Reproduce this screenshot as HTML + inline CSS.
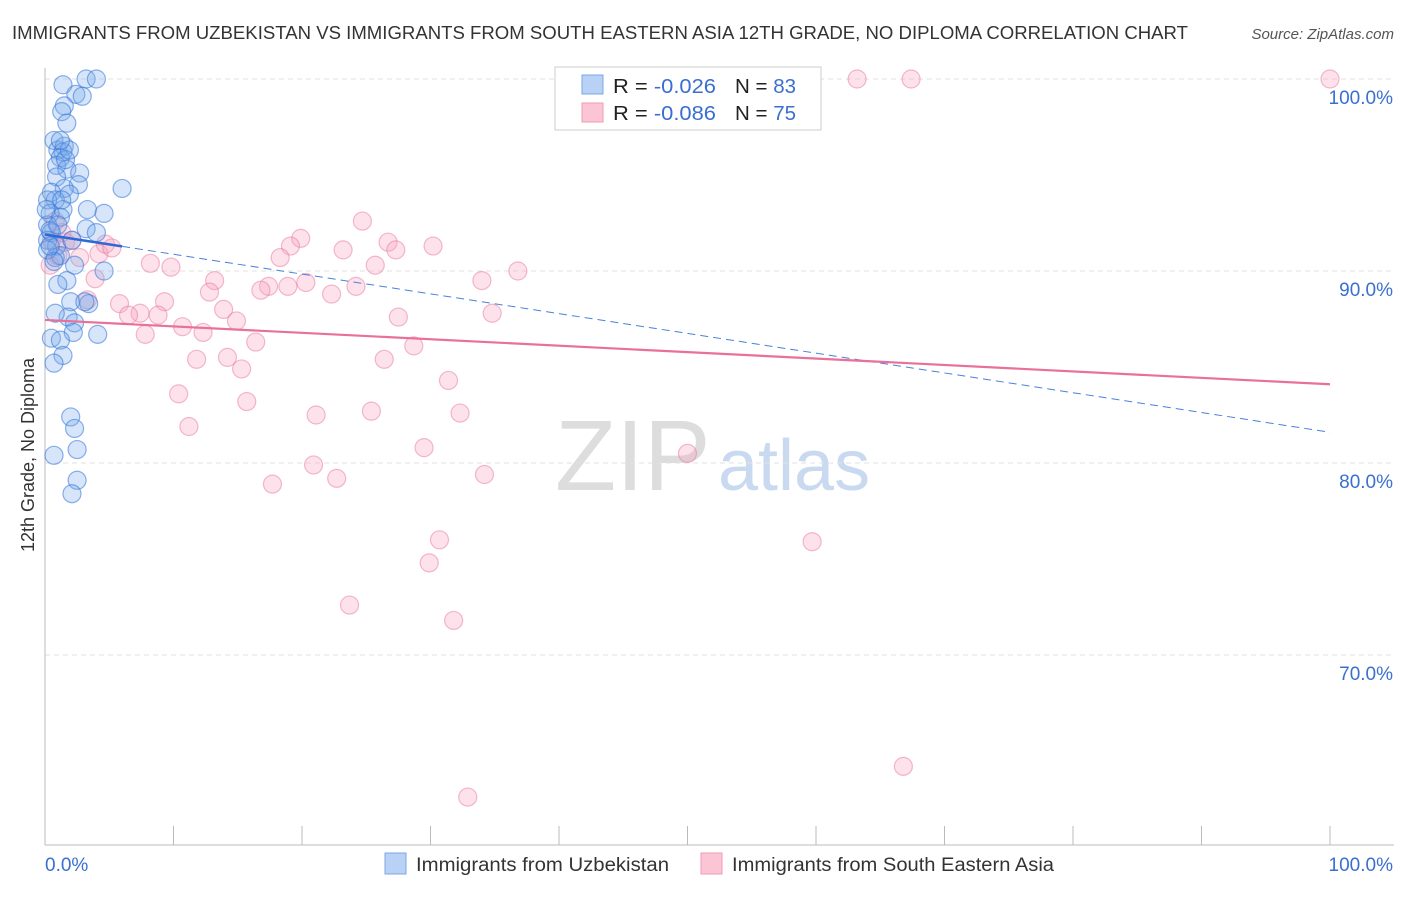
<!DOCTYPE html>
<html><head><meta charset="utf-8"><style>
body{margin:0;background:#fff;font-family:"Liberation Sans",sans-serif;}
svg text{font-family:"Liberation Sans",sans-serif;}
</style></head><body>
<svg id="chart" width="1406" height="892" xmlns="http://www.w3.org/2000/svg">
<text x="12" y="39" font-size="18" fill="#333" textLength="1176" lengthAdjust="spacingAndGlyphs">IMMIGRANTS FROM UZBEKISTAN VS IMMIGRANTS FROM SOUTH EASTERN ASIA 12TH GRADE, NO DIPLOMA CORRELATION CHART</text>
<text x="1394" y="39" font-size="15" fill="#555" font-style="italic" text-anchor="end">Source: ZipAtlas.com</text>
<text transform="translate(34,455) rotate(-90)" font-size="18" fill="#333" text-anchor="middle">12th Grade, No Diploma</text>
<g><text x="555" y="490" font-size="100" fill="#ddd" font-family="Liberation Serif">ZIP</text><text x="718" y="490" font-size="72" fill="#c9daf0">atlas</text></g>
<g id="grid"></g><g id="axes"></g><g id="pts"></g><g id="lines"></g>
<g>
<rect x="555" y="67" width="266" height="63" fill="#fff" stroke="#ccc"/>
<rect x="582" y="75" width="21" height="19" fill="#b8d1f5" stroke="#7aa7e6"/>
<rect x="582" y="103" width="21" height="19" fill="#fcc5d5" stroke="#f09ab4"/>
<text x="613" y="93" font-size="20" fill="#222" textLength="103" lengthAdjust="spacingAndGlyphs">R = <tspan fill="#3a6fd0">-0.026</tspan></text>
<text x="735" y="93" font-size="20" fill="#222" textLength="61" lengthAdjust="spacingAndGlyphs">N = <tspan fill="#3a6fd0">83</tspan></text>
<text x="613" y="120" font-size="20" fill="#222" textLength="103" lengthAdjust="spacingAndGlyphs">R = <tspan fill="#3a6fd0">-0.086</tspan></text>
<text x="735" y="120" font-size="20" fill="#222" textLength="61" lengthAdjust="spacingAndGlyphs">N = <tspan fill="#3a6fd0">75</tspan></text>
</g>
<g>
<rect x="385" y="853" width="21" height="21" fill="#b8d1f5" stroke="#7aa7e6"/>
<text x="416" y="871" font-size="19" fill="#333" textLength="253" lengthAdjust="spacingAndGlyphs">Immigrants from Uzbekistan</text>
<rect x="701" y="853" width="21" height="21" fill="#fcc5d5" stroke="#f09ab4"/>
<text x="732" y="871" font-size="19" fill="#333" textLength="322" lengthAdjust="spacingAndGlyphs">Immigrants from South Eastern Asia</text>
</g>
</svg>
<script>
const yTicks=[100,90,80,70];
const yTickLabels=["100.0%","90.0%","80.0%","70.0%"];
const xTickLabels=["0.0%","100.0%"];
const blueX=[1.4,3.2,4.0,2.4,2.9,1.5,1.3,1.7,0.7,1.0,1.5,1.4,1.2,0.9,1.7,2.7,0.9,2.6,1.5,1.9,6.0,0.5,0.8,0.2,3.3,4.6,1.4,0.4,1.2,0.2,3.2,4.0,0.5,0.2,0.9,2.1,0.8,1.2,2.3,4.6,1.7,1.0,2.0,3.4,3.1,1.8,0.8,2.3,4.1,2.2,0.5,1.2,1.4,0.7,2.0,2.3,2.5,0.7,2.5,2.1,0.1,0.4,0.2,0.7,0.4,1.0,1.3,1.6,1.9,1.2];
const blueY=[99.7,100,100,99.2,99.1,98.6,98.3,97.7,96.8,96.3,96.5,96.2,95.9,95.5,95.3,95.1,94.9,94.5,94.3,94.0,94.3,94.1,93.7,93.7,93.2,93.0,93.2,93.0,92.8,92.4,92.2,92.0,92.0,91.6,91.3,91.6,90.7,90.8,90.3,90.0,89.5,89.3,88.4,88.3,88.4,87.6,87.8,87.3,86.7,86.8,86.5,86.4,85.6,85.2,82.4,81.8,80.7,80.4,79.1,78.4,93.2,92.1,91.1,90.5,91.3,92.4,93.7,95.8,96.3,96.8];
const pinkX=[63.2,67.4,100,24.7,19.9,19.1,23.2,26.7,27.3,30.2,18.3,25.7,36.8,8.2,9.8,13.2,34.0,17.4,16.8,18.9,20.3,24.2,12.8,22.3,9.3,5.8,13.9,7.4,6.5,8.8,27.5,34.8,14.9,10.7,7.8,12.3,16.4,28.7,11.8,14.2,15.3,26.4,31.4,10.4,15.7,21.1,25.4,32.3,11.2,29.5,50.0,20.9,22.7,34.2,17.7,30.7,59.7,29.9,23.7,31.8,66.8,32.9,0.4,1.0,1.6,2.1,1.3,0.8,0.5,4.2,4.7,5.2,3.9,3.3,2.7];
const pinkY=[100,100,100,92.6,91.7,91.3,91.1,91.5,91.1,91.3,90.7,90.3,90.0,90.4,90.2,89.5,89.5,89.2,89.0,89.2,89.4,89.2,88.9,88.8,88.4,88.3,88.0,87.8,87.7,87.7,87.6,87.8,87.4,87.1,86.7,86.8,86.3,86.1,85.4,85.5,84.9,85.4,84.3,83.6,83.2,82.5,82.7,82.6,81.9,80.8,80.5,79.9,79.2,79.4,78.9,76.0,75.9,74.8,72.6,71.8,64.2,62.6,90.3,90.8,91.5,91.6,92.0,92.6,91.6,90.9,91.4,91.2,89.6,88.5,90.7];
const blueTrend=[91.9,81.6];
const pinkTrend=[87.45,84.1];
const X=v=>45+v*12.85, Y=v=>79+(100-v)*19.2;
const NS="http://www.w3.org/2000/svg";
function mk(tag,attrs,parent){const e=document.createElementNS(NS,tag);for(const k in attrs)e.setAttribute(k,attrs[k]);parent.appendChild(e);return e;}
const grid=document.getElementById('grid'),axes=document.getElementById('axes'),pts=document.getElementById('pts'),lines=document.getElementById('lines');
yTicks.forEach((t,i)=>{
 const l=mk('line',{x1:45,x2:1394,y1:Y(t),y2:Y(t),stroke:'#e2e2e2','stroke-width':1,'stroke-dasharray':'5,4'},grid);
 
 
 const tx=mk('text',{x:1393,y:Y(t)+25,'font-size':19,fill:'#3a6fd0','text-anchor':'end'},axes);
 tx.textContent=yTickLabels[i];
 
 
});
const ax=mk('line',{x1:45,x2:45,y1:68,y2:845,stroke:'#bbb'},axes);


const bx=mk('line',{x1:45,x2:1394,y1:845,y2:845,stroke:'#bbb'},axes);


for(let i=0;i<=10;i++){
 const tk=mk('line',{x1:X(i*10),x2:X(i*10),y1:826,y2:845,stroke:'#bbb'},axes);
 
 
}
[[0,'start',45],[100,'end',1393]].forEach((d,i)=>{
 const t=mk('text',{x:d[2],y:871,'font-size':19,fill:'#3a6fd0','text-anchor':d[1]},axes);
 t.textContent=xTickLabels[i];
 
 
});
pinkX.forEach((v,i)=>{
 const c=mk('circle',{cx:X(v),cy:Y(pinkY[i]),r:9,fill:'rgba(248,160,188,0.3)',stroke:'rgba(232,120,155,0.5)','stroke-width':1.2},pts);
 
 
});
blueX.forEach((v,i)=>{
 const c=mk('circle',{cx:X(v),cy:Y(blueY[i]),r:9,fill:'rgba(120,170,235,0.3)',stroke:'rgba(50,115,215,0.55)','stroke-width':1.2},pts);
 
 
});
const bAt=v=>blueTrend[0]+(blueTrend[1]-blueTrend[0])*v/100;
const b1=mk('line',{x1:X(0),y1:Y(bAt(0)),x2:X(6),y2:Y(bAt(6)),stroke:'#2d6ad6','stroke-width':2.5},lines);


const b2=mk('line',{x1:X(6),y1:Y(bAt(6)),x2:X(100),y2:Y(bAt(100)),stroke:'#4a80dc','stroke-width':1,'stroke-dasharray':'8,5'},lines);


const p1=mk('line',{x1:X(0),y1:Y(pinkTrend[0]),x2:X(100),y2:Y(pinkTrend[1]),stroke:'#e8709a','stroke-width':2.2},lines);


</script>
</body></html>
